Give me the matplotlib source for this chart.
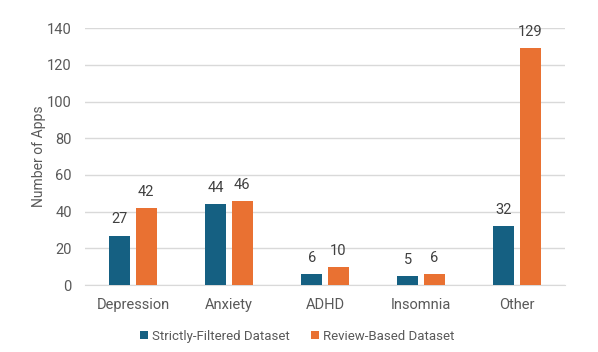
import matplotlib.pyplot as plt
import numpy as np

categories = ["Depression", "Anxiety", "ADHD", "Insomnia", "Other"]
strict = [27, 44, 6, 5, 32]
review = [42, 46, 10, 6, 129]
series_names = ["Strictly-Filtered Dataset", "Review-Based Dataset"]

blue = "#156082"
orange = "#E97132"
grey = "#595959"

plt.rcParams['font.family'] = ['Roboto', 'DejaVu Sans']

fig = plt.figure(figsize=(5.98, 3.52), dpi=100)
ax = fig.add_axes([0.142, 0.19, 0.803, 0.73])

x = np.arange(len(categories))
w = 0.22
gap = 0.055
b1 = ax.bar(x - w / 2 - gap / 2, strict, w, color=blue, label=series_names[0], zorder=3)
b2 = ax.bar(x + w / 2 + gap / 2, review, w, color=orange, label=series_names[1], zorder=3)

for bars in (b1, b2):
    for r in bars:
        ax.text(r.get_x() + r.get_width() / 2, r.get_height() + 5, str(int(r.get_height())),
                ha='center', va='bottom', fontsize=10.5, color="#404040")

ax.set_xlim(-0.5, len(categories) - 0.5)
ax.set_ylim(0, 140)
ax.set_yticks(range(0, 141, 20))
ax.set_xticks(x)
ax.set_xticklabels(categories)
ax.tick_params(axis='both', length=0, labelsize=10.5, colors=grey)
ax.tick_params(axis='x', pad=9)
ax.tick_params(axis='y', pad=9.5)
ax.grid(axis='y', color="#D9D9D9", linewidth=1, zorder=0)
for s in ax.spines.values():
    s.set_visible(False)
ax.spines['bottom'].set_visible(True)
ax.spines['bottom'].set_color("#D9D9D9")
ax.set_ylabel("Number of Apps", fontsize=10, color=grey, labelpad=1)

fig.legend(loc='lower center', bbox_to_anchor=(0.497, -0.008), ncol=2, frameon=False,
           fontsize=9.5, labelcolor=grey, handlelength=0.6, handleheight=0.6,
           handletextpad=0.3, columnspacing=1.6)

fig.savefig("out.png", dpi=100)
